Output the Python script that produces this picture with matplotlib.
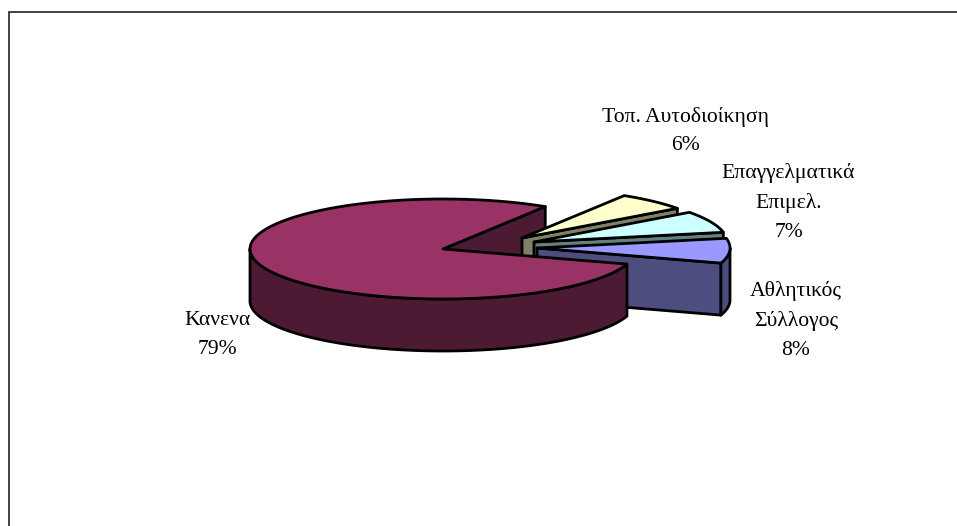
import numpy as np
import matplotlib
matplotlib.use("Agg")
import matplotlib.pyplot as plt
from matplotlib.patches import Polygon

plt.rcParams['font.family'] = ['Liberation Serif', 'DejaVu Serif']

# data, in drawing order of the pie
categories = ["Κανενα", "Αθλητικός\nΣύλλογος", "Επαγγελματικά\nΕπιμελ.", "Τοπ. Αυτοδιοίκηση"]
values = [79, 8, 7, 6]
top_colors = ["#993366", "#9999FF", "#CCFFFF", "#FFFFCC"]
wall_colors = ["#4D1A33", "#4D4D80", "#668080", "#808066"]

# layout in pixels
RX = 193.0
RY = 50.0
DEPTH = 52.0
CENTERS = [(443, 249), (537, 248), (534, 242), (522, 238)]
LABEL_POS = [(217, 335), (796, 320.5), (788.5, 202.5), (685.5, 131)]
START = -17.6 - 360 * 0.79  # angle where the first slice begins

fig = plt.figure(figsize=(9.57, 5.26), dpi=100)
ax = fig.add_axes([0, 0, 1, 1])
ax.set_xlim(0, 957)
ax.set_ylim(526, 0)
ax.axis("off")


def rim(c, a0, a1, drop=0.0):
    t = np.radians(np.linspace(a0, a1, 200))
    return np.column_stack([c[0] + RX * np.cos(t), c[1] - RY * np.sin(t) + drop])


def draw(pts, color, z):
    ax.add_patch(Polygon(pts, closed=True, facecolor=color, edgecolor="black",
                         linewidth=2.0, joinstyle="round", zorder=z))


# slice angles from the values
edges = START + np.cumsum([0] + values) * 3.6


def draw_slice(i, z):
    c = CENTERS[i]
    a0, a1 = edges[i], edges[i + 1]
    apex = np.array([c])
    # straight wall on the side turned to the viewer
    p = rim(c, a0, a0)[:1]
    wall = np.vstack([apex, p, p + [0, DEPTH], apex + [0, DEPTH]])
    draw(wall, wall_colors[i], z)
    # outer wall, only the front half of the circle shows
    low = a0
    high = min(a1, 0.0)
    if high > low:
        draw(np.vstack([rim(c, low, high), rim(c, high, low, DEPTH)]), wall_colors[i], z)
    draw(np.vstack([apex, rim(c, a0, a1)]), top_colors[i], z)


# the big slice: inner cut first, everything else goes in front of it
c0 = CENTERS[0]
apex0 = np.array([c0])
p_cut = rim(c0, edges[0], edges[0])[:1]
draw(np.vstack([apex0, p_cut, p_cut + [0, DEPTH], apex0 + [0, DEPTH]]), wall_colors[0], 1)

draw_slice(3, 2)
draw_slice(2, 3)
draw_slice(1, 4)

# front of the big slice
draw(np.vstack([rim(c0, -180, edges[1]), rim(c0, edges[1], -180, DEPTH)]), wall_colors[0], 5)
draw(np.vstack([apex0, rim(c0, edges[0], edges[1])]), top_colors[0], 6)

for name, v, (x, y) in zip(categories, values, LABEL_POS):
    ax.text(x, y, f"{name}\n{v}%", ha="center", va="center", fontsize=15.6,
            linespacing=1.68, color="black", zorder=7)

# only the top and left sides of the frame are in the picture
ax.plot([9, 9, 957], [526, 12, 12], color="#333333", linewidth=1.3,
        solid_joinstyle="miter", zorder=8)

fig.savefig("out.png", dpi=100)
